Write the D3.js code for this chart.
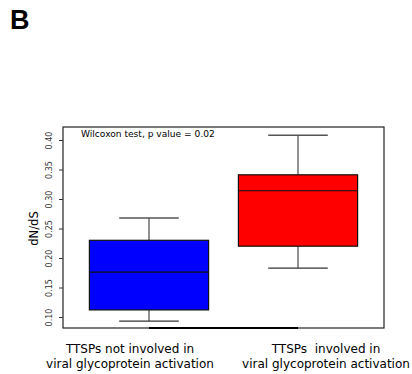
<!DOCTYPE html>
<html>
<head>
<meta charset="utf-8">
<script src="https://cdn.jsdelivr.net/npm/d3@7"></script>
<style>
  body { margin: 0; background: #fff; }
  svg { display: block; font-family: "DejaVu Sans", sans-serif; }
</style>
</head>
<body>
<svg id="chart" width="412" height="374"></svg>
<script>
// data
const groups = [
  ['TTSPs not involved in', 'viral glycoprotein activation'],
  ['TTSPs  involved in', 'viral glycoprotein activation']
];
const lowWhisker = [0.093, 0.183];
const q1 = [0.112, 0.220];
const median = [0.176, 0.314];
const q3 = [0.230, 0.341];
const highWhisker = [0.268, 0.408];
const fills = ['#0000ff', '#ff0000'];
const yTicks = [0.10, 0.15, 0.20, 0.25, 0.30, 0.35, 0.40];
const note = 'Wilcoxon test, p value = 0.02';

const svg = d3.select('#chart');
const frame = {left: 63, top: 127, right: 384, bottom: 328};

const x = d3.scaleLinear().domain([1, 2]).range([149, 298]);
const y = d3.scaleLinear().domain([0.10, 0.40]).range([317, 140]);
const boxW = 0.8, capW = 0.4;

// panel letter
svg.append('text')
    .attr('x', 10).attr('y', 29)
    .style('font-family', '"Liberation Sans", Arial, sans-serif')
    .style('font-weight', 900)
    .style('font-size', '27px')
    .text('B');

// plot frame
svg.append('rect')
    .attr('x', frame.left).attr('y', frame.top)
    .attr('width', frame.right - frame.left)
    .attr('height', frame.bottom - frame.top)
    .attr('fill', 'none')
    .attr('stroke', '#222')
    .attr('stroke-width', 1.2);

// x axis line between the groups
svg.append('line')
    .attr('x1', x(1)).attr('x2', x(2))
    .attr('y1', frame.bottom).attr('y2', frame.bottom)
    .attr('stroke', '#000')
    .attr('stroke-width', 2);

// y axis
const yAxis = svg.append('g')
    .attr('transform', `translate(${frame.left},0)`)
    .call(d3.axisLeft(y).tickValues(yTicks).tickFormat(d3.format('.2f')).tickSize(4).tickPadding(3));
yAxis.select('.domain').remove();
yAxis.selectAll('.tick line').attr('stroke', '#333');
yAxis.selectAll('.tick text')
    .attr('transform', 'rotate(-90)')
    .attr('x', 0).attr('y', -11)
    .attr('dy', 0)
    .attr('text-anchor', 'middle')
    .style('font-family', '"DejaVu Sans", sans-serif')
    .style('font-size', '8px')
    .attr('fill', '#333');

svg.append('text')
    .attr('transform', `translate(38,${(y(0.10) + y(0.40)) / 2}) rotate(-90)`)
    .attr('text-anchor', 'middle')
    .style('font-size', '11.5px')
    .text('dN/dS');

// boxes
const idx = d3.range(groups.length);
const g = svg.append('g');

// whiskers
g.selectAll('.whisk-lo').data(idx).enter().append('line')
    .attr('x1', i => x(i + 1)).attr('x2', i => x(i + 1))
    .attr('y1', i => y(lowWhisker[i])).attr('y2', i => y(q1[i]))
    .attr('stroke', '#555').attr('stroke-width', 1.3);
g.selectAll('.whisk-hi').data(idx).enter().append('line')
    .attr('x1', i => x(i + 1)).attr('x2', i => x(i + 1))
    .attr('y1', i => y(highWhisker[i])).attr('y2', i => y(q3[i]))
    .attr('stroke', '#555').attr('stroke-width', 1.3);
g.selectAll('.cap-lo').data(idx).enter().append('line')
    .attr('x1', i => x(i + 1 - capW / 2)).attr('x2', i => x(i + 1 + capW / 2))
    .attr('y1', i => y(lowWhisker[i])).attr('y2', i => y(lowWhisker[i]))
    .attr('stroke', '#333').attr('stroke-width', 1.3);
g.selectAll('.cap-hi').data(idx).enter().append('line')
    .attr('x1', i => x(i + 1 - capW / 2)).attr('x2', i => x(i + 1 + capW / 2))
    .attr('y1', i => y(highWhisker[i])).attr('y2', i => y(highWhisker[i]))
    .attr('stroke', '#555').attr('stroke-width', 1.5);

g.selectAll('rect').data(idx).enter().append('rect')
    .attr('x', i => x(i + 1 - boxW / 2))
    .attr('width', x(1 + boxW) - x(1))
    .attr('y', i => y(q3[i]))
    .attr('height', i => y(q1[i]) - y(q3[i]))
    .attr('fill', i => fills[i])
    .attr('stroke', '#111')
    .attr('stroke-width', 1.2);

g.selectAll('.med').data(idx).enter().append('line')
    .attr('x1', i => x(i + 1 - boxW / 2)).attr('x2', i => x(i + 1 + boxW / 2))
    .attr('y1', i => y(median[i])).attr('y2', i => y(median[i]))
    .attr('stroke', '#111').attr('stroke-width', 1.2);

// note
svg.append('text')
    .attr('x', 81).attr('y', 137)
    .style('font-size', '9.1px')
    .text(note);

// group labels
const labelX = [130, 326];
groups.forEach((lines, i) => {
  const t = svg.append('text')
      .attr('text-anchor', 'middle')
      .attr('xml:space', 'preserve')
      .style('font-size', '12px')
      .style('white-space', 'pre');
  lines.forEach((ln, j) => {
    t.append('tspan')
        .attr('x', labelX[i])
        .attr('y', 353 + j * 15)
        .text(ln);
  });
});
</script>
</body>
</html>
